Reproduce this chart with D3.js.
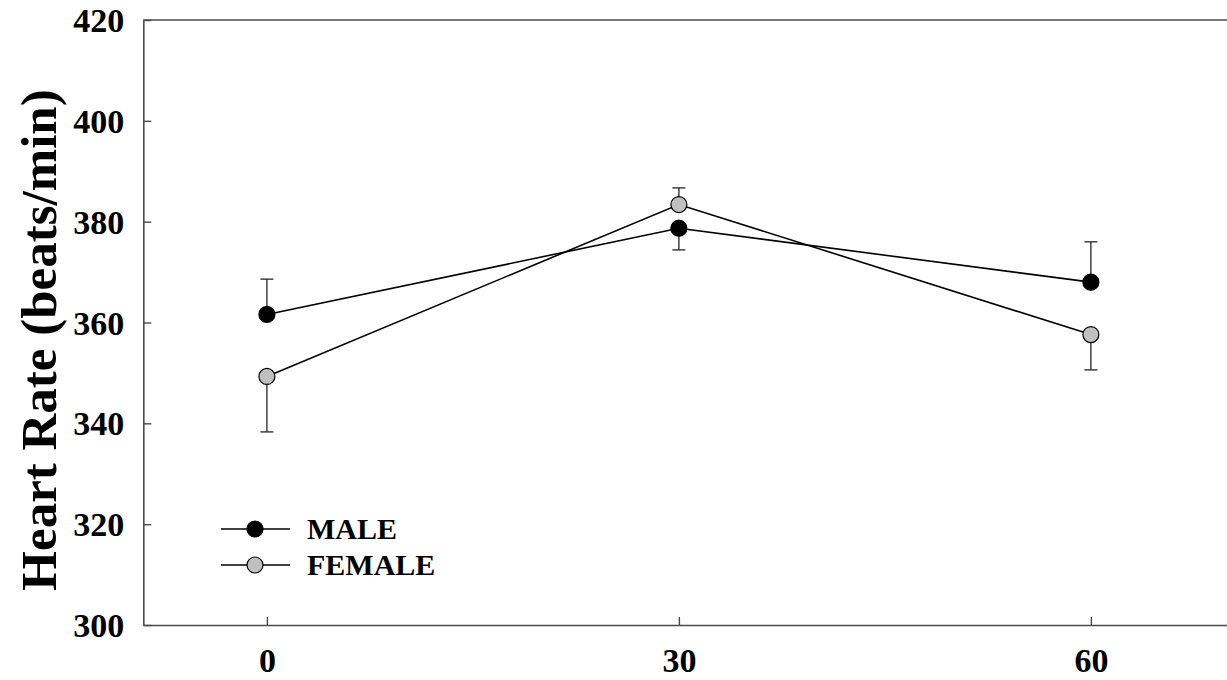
<!DOCTYPE html>
<html>
<head>
<meta charset="utf-8">
<script src="https://cdn.jsdelivr.net/npm/d3@7"></script>
<style>
  html, body { margin: 0; padding: 0; background: #fff; }
  svg { display: block; }
</style>
</head>
<body>
<svg id="chart" width="1227" height="680"></svg>
<script>
// ---- data ----
const timePoints = [0, 30, 60];
const seriesNames = ["MALE", "FEMALE"];
const maleMean = [361.6, 378.7, 368.0];
const maleErr = [7.0, 4.3, 8.0];
const maleErrDir = [1, -1, 1];      // 1 = upward bar, -1 = downward bar
const femaleMean = [349.3, 383.4, 357.6];
const femaleErr = [11.0, 3.3, 7.0];
const femaleErrDir = [-1, 1, -1];
const yTicks = [300, 320, 340, 360, 380, 400, 420];
const xTicks = [0, 30, 60];
const yTitle = "Heart Rate (beats/min)";

const series = [
  { name: seriesNames[0], mean: maleMean, err: maleErr, dir: maleErrDir, fill: "#000000" },
  { name: seriesNames[1], mean: femaleMean, err: femaleErr, dir: femaleErrDir, fill: "#c0c0c0" }
];

const svg = d3.select("#chart");
const font = "'Liberation Serif', 'Times New Roman', serif";

const x = d3.scaleLinear().domain([-9, 72]).range([143.3, 143.3 + 81 * 13.733]);
const y = d3.scaleLinear().domain([300, 420]).range([625, 20]);

const axisColor = "#4a4a4a";

// top frame line
svg.append("line")
  .attr("x1", x(-9)).attr("x2", 1240)
  .attr("y1", y(420)).attr("y2", y(420))
  .attr("stroke", axisColor).attr("stroke-width", 1.6);

// y axis
const gy = svg.append("g")
  .attr("transform", `translate(${x(-9)},0)`)
  .call(d3.axisLeft(y).tickValues(yTicks).tickSizeInner(-8).tickSizeOuter(0).tickPadding(19));
// x axis
const gx = svg.append("g")
  .attr("transform", `translate(0,${y(300)})`)
  .call(d3.axisBottom(x).tickValues(xTicks).tickSizeInner(-8).tickSizeOuter(0).tickPadding(23));

[gx, gy].forEach(g => {
  g.select(".domain").attr("stroke", axisColor).attr("stroke-width", 1.6);
  g.selectAll(".tick line").attr("stroke", axisColor).attr("stroke-width", 1.4);
  g.selectAll(".tick text")
    .attr("fill", "#000")
    .style("font-family", font)
    .style("font-weight", "bold")
    .style("font-size", "34px");
});
gy.selectAll(".tick text").attr("dy", "0.34em");

// y title
svg.append("text")
  .attr("transform", `translate(56,340) rotate(-90)`)
  .attr("text-anchor", "middle")
  .style("font-family", font)
  .style("font-weight", "bold")
  .style("font-size", "51px")
  .attr("fill", "#000")
  .text(yTitle);

const plot = svg.append("g");

// error bars
const capHalf = 6.5;
series.forEach(s => {
  timePoints.forEach((t, i) => {
    const y0 = y(s.mean[i]);
    const y1 = y(s.mean[i] + s.dir[i] * s.err[i]);
    plot.append("line")
      .attr("x1", x(t)).attr("x2", x(t))
      .attr("y1", y0).attr("y2", y1)
      .attr("stroke", "#333").attr("stroke-width", 1.4);
    plot.append("line")
      .attr("x1", x(t) - capHalf).attr("x2", x(t) + capHalf)
      .attr("y1", y1).attr("y2", y1)
      .attr("stroke", "#333").attr("stroke-width", 1.4);
  });
});

// lines
const line = d3.line().x((d, i) => x(timePoints[i])).y(d => y(d));
series.forEach(s => {
  plot.append("path")
    .datum(s.mean)
    .attr("d", line)
    .attr("fill", "none")
    .attr("stroke", "#000")
    .attr("stroke-width", 1.6);
});

// markers
series.forEach(s => {
  plot.selectAll(null)
    .data(s.mean)
    .enter()
    .append("circle")
    .attr("cx", (d, i) => x(timePoints[i]))
    .attr("cy", d => y(d))
    .attr("r", 8)
    .attr("fill", s.fill)
    .attr("stroke", "#000")
    .attr("stroke-width", 1.2);
});

// legend
const legend = svg.append("g");
const legendY = [529, 565];
series.forEach((s, i) => {
  const ly = legendY[i];
  legend.append("line")
    .attr("x1", 221).attr("x2", 290)
    .attr("y1", ly).attr("y2", ly)
    .attr("stroke", "#000").attr("stroke-width", 1.6);
  legend.append("circle")
    .attr("cx", 255).attr("cy", ly).attr("r", 8)
    .attr("fill", s.fill).attr("stroke", "#000").attr("stroke-width", 1.2);
  legend.append("text")
    .attr("x", 307).attr("y", ly + 10)
    .style("font-family", font)
    .style("font-weight", "bold")
    .style("font-size", "30px")
    .attr("fill", "#000")
    .text(s.name);
});
</script>
</body>
</html>
